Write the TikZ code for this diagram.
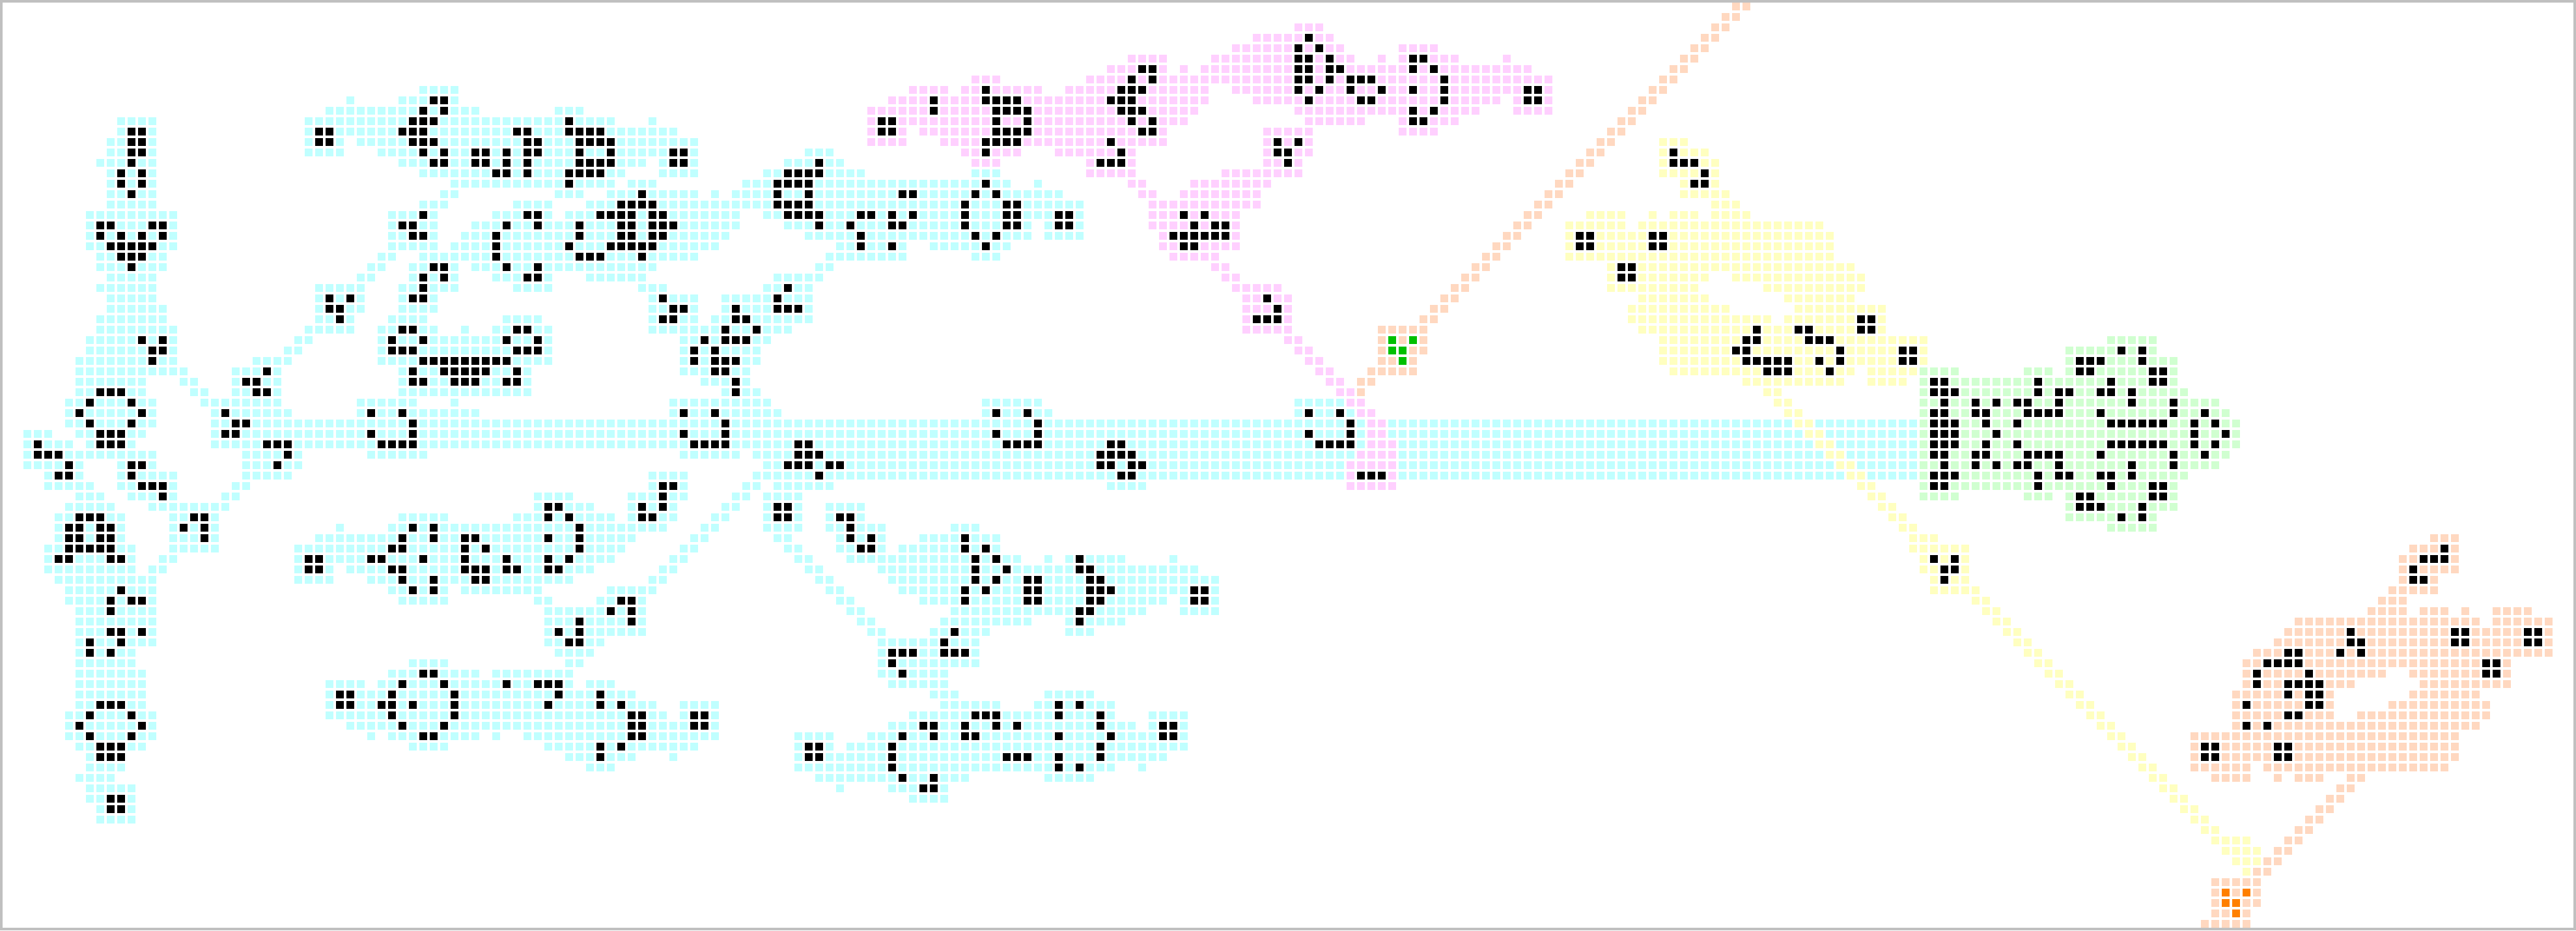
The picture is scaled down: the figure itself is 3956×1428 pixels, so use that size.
\documentclass[tikz,border=0pt]{standalone}
\definecolor{framec}{HTML}{C0C0C0}
\definecolor{cyanc}{HTML}{C0FFFF}
\definecolor{pinkc}{HTML}{FFD0FF}
\definecolor{yellowc}{HTML}{FFFFC0}
\definecolor{peachc}{HTML}{FFD8C0}
\definecolor{mintc}{HTML}{D0FFD0}
\definecolor{greenc}{HTML}{00C000}
\definecolor{orangec}{HTML}{FF8000}
\tikzset{
  cellc/.style={fill=cyanc},
  cellm/.style={fill=pinkc},
  celly/.style={fill=yellowc},
  cellp/.style={fill=peachc},
  cellg/.style={fill=mintc},
  celld/.style={fill=greenc},
  cellr/.style={fill=orangec},
  cellk/.style={fill=black},
}
\def\gridoff{0}
\newcommand\Cell[3]{%
  \edef\cxx{\the\numexpr 4+16*(\gridoff+#3)\relax}%
  \edef\cyy{\the\numexpr 4+16*#2\relax}%
  \fill[cell#1] (\cxx,\cyy) rectangle +(12,12);}
% colour, row, spans a/b, black cells
\newcommand\Y[4]{%
  \foreach \ca/\cb in {#3}{\foreach \ci in {\ca,...,\cb}{\Cell{#1}{#2}{\ci}}}%
  \def\blacklist{#4}%
  \ifx\blacklist\empty\else\foreach \ci in {#4}{\Cell{k}{#2}{\ci}}\fi}
\begin{document}
\begin{tikzpicture}[x=0.25pt,y=-0.25pt]
\useasboundingbox (0,0) rectangle (3956,1428);
\fill[framec] (0,0) rectangle (3956,1428);
\fill[white] (4,4) rectangle (3952,1424);
% ---- columns 0-40
\def\gridoff{0}
\Y{c}{8}{40/40}{}
\Y{c}{9}{33/33,38/40}{}
\Y{c}{10}{31/40}{40}
\Y{c}{11}{11/14,29/40}{39,40}
\Y{c}{12}{11/14,29/40}{12,13,30,31,38,39,40}
\Y{c}{13}{10/14,29/32,34/40}{12,13,30,31,39,40}
\Y{c}{14}{10/14,29/32,36/40}{12,13,40}
\Y{c}{15}{9/14,38/40}{12}
\Y{c}{16}{10/14,40/40}{11,13}
\Y{c}{17}{10/14}{11,13}
\Y{c}{18}{10/14}{12}
\Y{c}{19}{10/14,40/40}{}
\Y{c}{20}{8/16,37/40}{40}
\Y{c}{21}{8/16,37/40}{9,10,14,15,38,39}
\Y{c}{22}{8/16,37/40}{9,11,13,15,39,40}
\Y{c}{23}{8/16,37/40}{10,11,12,13,14}
\Y{c}{24}{9/15,36/37,40/40}{11,12,13}
\Y{c}{25}{9/15,35/36,39/40}{12}
\Y{c}{26}{10/14,34/35,39/40}{40}
\Y{c}{27}{9/14,30/34,38/40}{40}
\Y{c}{28}{10/14,30/34,38/40}{31,33,39,40}
\Y{c}{29}{10/15,30/34,38/40}{31,32}
\Y{c}{30}{9/15,30/33,37/40}{32}
\Y{c}{31}{9/16,29/33,36/40}{38,39}
\Y{c}{32}{8/16,28/29,36/40}{13,15,37,40}
\Y{c}{33}{8/16,27/28,36/40}{14,15,37,38,39}
\Y{c}{34}{7/16,24/27,36/40}{14,40}
\Y{c}{35}{7/17,22/26,38/40}{25,39}
\Y{c}{36}{7/13,17/18,22/26,38/40}{23,24,39,40}
\Y{c}{37}{7/13,18/19,22/26,38/40}{9,10,11,24,25}
\Y{c}{38}{6/14,19/26,34/39}{8,12}
\Y{c}{39}{6/14,20/27,34/40}{7,13,21,35,38}
\Y{c}{40}{6/14,20/40}{8,12,22,23,39}
\Y{c}{41}{2/4,7/13,20/40}{9,10,11,21,22,35,39}
\Y{c}{42}{2/6,8/12,20/40}{3,9,10,11,25,26,27,36,37,38,39}
\Y{c}{43}{2/14,23/28,35/40}{3,4,5,27}
\Y{c}{44}{2/7,11/14,23/28}{6,12,13,26}
\Y{c}{45}{4/7,11/16,23/27}{5,6,12}
\Y{c}{46}{4/8,11/16,22/23}{13,14,15}
\Y{c}{47}{7/9,12/16,21/22}{15}
\Y{c}{48}{6/10,14/21}{}
\Y{c}{49}{5/11,16/20,38/40}{7,8,9,18,19}
\Y{c}{50}{5/11,16/20,32/32,37/40}{6,7,9,10,17,19,39}
\Y{c}{51}{5/11,16/20,30/40}{6,7,9,10,19,38}
\Y{c}{52}{4/12,16/20,28/40}{6,7,8,9,10,37,38}
\Y{c}{53}{4/12,15/16,28/40}{5,6,10,11,29,30,35,36,40}
\Y{c}{54}{4/12,14/15,28/31,33/40}{29,30,37,38}
\Y{c}{55}{5/14,28/31,35/40}{38}
\Y{c}{56}{6/14,37/40}{11,39}
\Y{c}{57}{6/14,38/40}{10,12,13}
\Y{c}{58}{7/14}{10}
\Y{c}{59}{7/14}{}
\Y{c}{60}{7/14}{10,11,13}
\Y{c}{61}{7/14}{8,11}
\Y{c}{62}{7/12}{8,10}
\Y{c}{63}{7/12,39/40}{}
\Y{c}{64}{7/13,37/40}{40}
\Y{c}{65}{7/13,31/34,36/40}{38}
\Y{c}{66}{7/13,31/40}{32,33,37}
\Y{c}{67}{7/13,31/40}{9,10,11,32,33,36,37,39}
\Y{c}{68}{6/14,31/40}{8,12,37}
\Y{c}{69}{6/14,33/40}{7,13,38}
\Y{c}{70}{6/14,35/35,37/40}{8,12,40}
\Y{c}{71}{7/13,39/40}{9,10,11}
\Y{c}{72}{8/11}{9,10,11}
\Y{c}{73}{8/11}{}
\Y{c}{74}{7/10}{}
\Y{c}{75}{8/12}{}
\Y{c}{76}{8/12}{10,11}
\Y{c}{77}{9/12}{10,11}
\Y{c}{78}{9/12}{}
% ---- columns 41-116
\def\gridoff{41}
\Y{m}{5}{67/70,75/75}{}
\Y{m}{6}{65/70,72/72,74/75}{68,69}
\Y{m}{7}{52/54,63/75}{67,69}
\Y{c}{8}{0/2}{}
\Y{m}{8}{46/49,51/58,61/74}{53,66,67,68}
\Y{c}{9}{0/2}{0,1}
\Y{m}{9}{44/74}{48,53,54,55,56,65,66,67}
\Y{c}{10}{0/4,12/14}{1}
\Y{m}{10}{42/73}{48,54,55,56,57,66,67,68}
\Y{c}{11}{0/17,21/21}{0,13}
\Y{m}{11}{42/72}{43,44,54,57,67,69}
\Y{c}{12}{0/23}{8,9,13,14,15,16}
\Y{m}{12}{42/45,47/70}{43,44,54,55,56,57,68,69}
\Y{c}{13}{0/25}{0,9,10,14,15,16,17}
\Y{m}{13}{42/45,49/70}{53,54,55,56,65}
\Y{c}{14}{0/25,36/38}{1,4,5,7,9,10,14,17,23,24}
\Y{m}{14}{51/56,60/67}{53,66}
\Y{c}{15}{0/20,22/25,34/39}{0,1,4,5,7,9,14,15,16,17,23,24,37}
\Y{m}{15}{52/54,63/67}{64,65,66}
\Y{c}{16}{0/18,22/25,32/41,52/54}{6,7,9,13,14,15,16,34,35,36,37}
\Y{m}{16}{63/67}{}
\Y{c}{17}{2/17,19/21,30/55,58/58}{13,33,34,35,36,53}
\Y{m}{17}{67/68,73/75}{}
\Y{c}{18}{1/2,12/14,17/25,27/27,29/60}{20,33,36,45,46,52,54}
\Y{m}{18}{68/69,72/75}{}
\Y{c}{19}{0/1,8/11,15/62}{18,19,20,21,33,34,35,36,51,55,56}
\Y{m}{19}{69/75}{}
\Y{c}{20}{0/0,6/11,13/29,32/62}{9,10,16,17,18,19,21,22,34,35,36,37,41,42,44,46,51,55,56,60,61}
\Y{m}{20}{69/75}{72,74}
\Y{c}{21}{0/0,4/29,34/57,59/62}{7,10,14,18,19,21,22,23,37,40,44,45,51,55,56,60,61}
\Y{m}{21}{69/75}{73,75}
\Y{c}{22}{0/0,3/28,36/57,59/62}{6,14,18,19,21,22,41,52,54}
\Y{m}{22}{70/75}{71,72,73,74,75}
\Y{c}{23}{0/0,2/27,39/45,48/55}{6,13,17,18,19,20,21,41,44,53}
\Y{m}{23}{70/75}{72,73}
\Y{c}{24}{0/25,38/45,52/54}{6,14,15,16,20}
\Y{m}{24}{71/75}{}
\Y{c}{25}{0/2,4/21,37/38}{0,1,7,10}
\Y{m}{25}{75/75}{}
\Y{c}{26}{0/2,6/11,15/20,33/37}{1,9,10}
\Y{c}{27}{0/2,8/11,20/22,32/36}{34}
\Y{c}{28}{0/0,21/25,28/36}{22,33}
\Y{c}{29}{0/0,21/25,28/36}{23,24,29,33,34,35}
\Y{c}{30}{7/10,21/25,27/36}{22,23,29,30}
\Y{c}{31}{0/0,3/3,6/11,21/34}{8,9,28,31}
\Y{c}{32}{0/11,24/32}{7,10,26,28,29,30}
\Y{c}{33}{0/11,24/31}{8,9,10,25,27}
\Y{c}{34}{0/11,24/31}{0,1,2,3,4,5,6,7,25,27,28,29}
\Y{c}{35}{0/9,24/30}{1,2,3,4,5,8,27,28}
\Y{c}{36}{0/9,26/30}{2,3,4,7,8,29}
\Y{c}{37}{0/9,28/31}{29}
\Y{c}{38}{2/2,23/32,53/58}{}
\Y{c}{39}{0/4,23/33,53/59}{24,27,54,57}
\Y{c}{40}{0/75}{28,58}
\Y{c}{41}{0/75}{24,28,54,58}
\Y{c}{42}{0/75}{25,26,27,28,35,36,55,56,57,58,65,66}
\Y{c}{43}{24/29,31/75}{35,36,37,64,65,66,67}
\Y{c}{44}{32/75}{34,35,36,38,39,64,65,67,68}
\Y{c}{45}{21/24,31/75}{37,66,67}
\Y{c}{46}{21/24,30/31,33/38,65/68}{22,23}
\Y{c}{47}{10/13,19/24,29/30,32/35}{22}
\Y{c}{48}{10/15,19/23,28/29,32/35,38/41}{11,12,20,22,33,34}
\Y{c}{49}{0/1,8/17,19/23,27/28,32/35,38/41}{11,13,20,21,33,34,39,40}
\Y{c}{50}{0/22,26/27,32/35,38/43,50/52}{0,14,40}
\Y{c}{51}{0/19,25/26,33/34,39/43,47/54}{0,3,4,11,14,40,42,51}
\Y{c}{52}{0/18,24/25,34/35,39/43,45/54}{3,5,14,41,42,51,53}
\Y{c}{53}{0/17,23/24,35/36,40/56,59/59,61/66,71/71}{3,7,11,13,52,54,62}
\Y{c}{54}{0/15,22/23,36/37,43/73}{3,4,5,7,8,11,12,52,55,62,63}
\Y{c}{55}{0/13,21/22,37/38,44/75}{0,4,5,52,54,57,58,63,64}
\Y{c}{56}{0/1,3/10,17/21,38/39,45/75}{0,51,53,57,58,63,64,65,73,74}
\Y{c}{57}{0/1,10/11,16/20,39/40,47/70,72/75}{18,19,51,57,58,63,64,73,74}
\Y{c}{58}{11/20,40/41,50/68,72/75}{17,19,62,63}
\Y{c}{59}{11/20,41/42,49/57,61/66}{14,19,62}
\Y{c}{60}{11/20,42/43,48/53,61/63}{12,14,50}
\Y{c}{61}{11/16,43/52}{13,14,49}
\Y{c}{62}{12/15,43/52}{44,45,46,49,50,51}
\Y{c}{63}{0/1,13/14,43/52}{44}
\Y{c}{64}{0/4,6/13,43/49}{0,45}
\Y{c}{65}{0/13,15/17,44/49}{1,7,10,11,12}
\Y{c}{66}{0/19,48/50,59/63}{2,12,16}
\Y{c}{67}{0/21,24/27,49/54,58/65}{2,11,16,18,60,62}
\Y{c}{68}{0/22,24/27,46/65,69/72}{2,19,20,25,26,52,53,54,60,64}
\Y{c}{69}{0/27,44/67,69/72}{1,19,20,25,26,47,48,51,54,56,64,70,71}
\Y{c}{70}{0/4,6/6,9/27,35/38,42/72}{0,19,20,45,48,51,52,60,65,70,71}
\Y{c}{71}{0/1,11/25,35/38,40/72}{16,18,36,37,44,64}
\Y{c}{72}{13/19,23/23,35/70}{16,36,37,44,55,56,57,60,64}
\Y{c}{73}{15/17,35/65,68/68}{44,60,62}
\Y{c}{74}{37/51,59/63}{45,48}
\Y{c}{75}{39/39,44/49}{47,48}
\Y{c}{76}{46/49}{}
% ---- columns 117-180
\def\gridoff{117}
\Y{p}{0}{49/50}{}
\Y{p}{1}{48/49}{}
\Y{m}{2}{7/9}{}
\Y{p}{2}{47/48}{}
\Y{m}{3}{3/10}{8}
\Y{p}{3}{46/47}{}
\Y{m}{4}{1/11,17/20}{7,9}
\Y{p}{4}{45/46}{}
\Y{m}{5}{0/12,15/15,17/22,27/27}{7,8,10,18,19}
\Y{p}{5}{44/45}{}
\Y{m}{6}{0/29}{7,8,10,11,18,20}
\Y{p}{6}{43/44}{}
\Y{m}{7}{0/31}{7,8,10,12,13,14,21}
\Y{p}{7}{42/43}{}
\Y{m}{8}{1/31}{7,9,12,15,18,21,29,30}
\Y{p}{8}{41/42}{}
\Y{m}{9}{3/26,28/31}{8,13,14,21,29,30}
\Y{p}{9}{40/41}{}
\Y{m}{10}{7/24,28/31}{18,20}
\Y{p}{10}{39/40}{}
\Y{m}{11}{8/13,17/22}{18,19}
\Y{p}{11}{38/39}{}
\Y{m}{12}{4/8,17/20}{}
\Y{p}{12}{37/38}{}
\Y{m}{13}{4/8}{5,7}
\Y{p}{13}{36/37}{}
\Y{y}{13}{42/44}{}
\Y{m}{14}{4/8}{5,6}
\Y{p}{14}{35/36}{}
\Y{y}{14}{42/46}{43}
\Y{m}{15}{4/7}{6}
\Y{p}{15}{34/35}{}
\Y{y}{15}{42/47}{43,44,45}
\Y{m}{16}{0/7}{}
\Y{p}{16}{33/34}{}
\Y{y}{16}{42/47}{46}
\Y{m}{17}{0/4}{}
\Y{p}{17}{32/33}{}
\Y{y}{17}{44/47}{45,46}
\Y{m}{18}{0/3}{}
\Y{p}{18}{31/32}{}
\Y{y}{18}{44/48}{}
\Y{m}{19}{0/3}{}
\Y{p}{19}{30/31}{}
\Y{y}{19}{47/49}{}
\Y{m}{20}{0/1}{}
\Y{p}{20}{29/30}{}
\Y{y}{20}{35/38,41/41,43/45,47/50}{}
\Y{m}{21}{0/1}{0}
\Y{p}{21}{28/29}{}
\Y{y}{21}{33/38,40/57}{}
\Y{m}{22}{0/1}{0}
\Y{p}{22}{27/28}{}
\Y{y}{22}{33/58}{34,35,41,42}
\Y{m}{23}{0/1}{}
\Y{p}{23}{26/27}{}
\Y{y}{23}{33/58}{34,35,41,42}
\Y{p}{24}{25/26}{}
\Y{y}{24}{33/58}{}
\Y{m}{25}{0/0}{}
\Y{p}{25}{24/25}{}
\Y{y}{25}{37/60}{38,39}
\Y{m}{26}{0/1}{}
\Y{p}{26}{23/24}{}
\Y{y}{26}{37/46,49/61}{38,39}
\Y{m}{27}{1/5}{}
\Y{p}{27}{22/23}{}
\Y{y}{27}{37/45,52/61}{}
\Y{m}{28}{2/6}{4}
\Y{p}{28}{21/22}{}
\Y{y}{28}{40/46,54/60}{}
\Y{m}{29}{2/6}{5}
\Y{p}{29}{20/21}{}
\Y{y}{29}{39/48,55/63}{}
\Y{m}{30}{2/6}{3,4,5}
\Y{p}{30}{19/20}{}
\Y{y}{30}{39/52,54/63}{61,62}
\Y{m}{31}{2/6}{}
\Y{p}{31}{15/19}{}
\Y{y}{31}{40/63}{51,55,56,61,62}
\Y{m}{32}{6/7}{}
\Y{p}{32}{15/19}{}
\Y{d}{32}{16/16,18/18}{}
\Y{y}{32}{42/63}{50,51,56,57,58}
\Y{m}{33}{7/8}{}
\Y{p}{33}{15/19}{}
\Y{d}{33}{16/17}{}
\Y{y}{33}{42/63}{49,50,59}
\Y{m}{34}{8/9}{}
\Y{p}{34}{15/18}{}
\Y{d}{34}{17/17}{}
\Y{y}{34}{42/63}{50,51,52,53,54,57,59}
\Y{m}{35}{9/10}{}
\Y{p}{35}{14/18}{}
\Y{y}{35}{43/60,62/63}{52,53,54,58}
\Y{m}{36}{10/11}{}
\Y{p}{36}{13/14}{}
\Y{y}{36}{50/59,62/63}{}
\Y{m}{37}{11/12}{}
\Y{p}{37}{13/13}{}
\Y{y}{37}{52/53}{}
\Y{c}{38}{7/11}{}
\Y{m}{38}{12/13}{}
\Y{y}{38}{53/54}{}
\Y{c}{39}{7/12}{8,11}
\Y{m}{39}{13/14}{}
\Y{y}{39}{54/55}{}
\Y{c}{40}{0/13,16/54,57/63}{12}
\Y{m}{40}{14/15}{}
\Y{y}{40}{55/56}{}
\Y{c}{41}{0/13,16/55,58/63}{8,12}
\Y{m}{41}{14/15}{}
\Y{y}{41}{56/57}{}
\Y{c}{42}{0/13,17/56,59/63}{9,10,11,12}
\Y{m}{42}{14/16}{}
\Y{y}{42}{57/58}{}
\Y{c}{43}{0/12,17/57,60/63}{}
\Y{m}{43}{13/16}{}
\Y{y}{43}{58/59}{}
\Y{c}{44}{0/11,17/58,61/63}{}
\Y{m}{44}{12/16}{}
\Y{y}{44}{59/60}{}
\Y{c}{45}{0/11,17/59,62/63}{}
\Y{m}{45}{12/16}{13,14,15}
\Y{y}{45}{60/61}{}
\Y{m}{46}{12/16}{}
\Y{y}{46}{61/62}{}
\Y{y}{47}{62/63}{}
\Y{y}{48}{63/63}{}
% ---- columns 181-246
\def\gridoff{181}
\Y{y}{32}{0/3}{}
\Y{g}{32}{21/25}{}
\Y{y}{33}{0/3}{1,2}
\Y{g}{33}{17/25}{22,24}
\Y{y}{34}{0/3}{1,2}
\Y{g}{34}{17/27}{18,19,20,24}
\Y{y}{35}{0/2}{}
\Y{g}{35}{3/6,13/15,17/27}{18,19,25,26}
\Y{y}{36}{0/1}{}
\Y{g}{36}{3/27}{4,5,14,21,25,26}
\Y{g}{37}{3/28}{4,5,6,14,16,17,20,21,23}
\Y{g}{38}{3/31}{5,8,10,12,13,16,23,27}
\Y{g}{39}{3/32}{4,5,8,9,13,14,15,16,20,27,30}
\Y{c}{40}{0/2}{}
\Y{g}{40}{3/33}{4,5,6,9,12,21,22,23,24,25,26,29,31}
\Y{c}{41}{0/2}{}
\Y{g}{41}{3/33}{4,5,6,10,29,32}
\Y{c}{42}{0/2}{}
\Y{g}{42}{3/33}{4,5,6,9,12,21,22,23,24,25,26,29,31}
\Y{c}{43}{0/2}{}
\Y{g}{43}{3/32}{4,5,8,9,13,14,15,16,20,27,30}
\Y{c}{44}{0/2}{}
\Y{g}{44}{3/31}{5,8,10,12,13,16,23,27}
\Y{c}{45}{0/2}{}
\Y{g}{45}{3/28}{4,5,6,14,16,17,20,21,23}
\Y{g}{46}{3/27}{4,5,14,21,25,26}
\Y{g}{47}{3/6,13/15,17/27}{18,19,25,26}
\Y{y}{48}{0/0}{}
\Y{g}{48}{17/27}{18,19,20,24}
\Y{y}{49}{0/1}{}
\Y{g}{49}{17/25}{22,24}
\Y{y}{50}{1/2}{}
\Y{g}{50}{21/25}{}
\Y{y}{51}{2/4}{}
\Y{p}{51}{52/54}{}
\Y{y}{52}{2/7}{}
\Y{p}{52}{50/54}{53}
\Y{y}{53}{3/7}{4,6}
\Y{p}{53}{49/54}{51,52,53}
\Y{y}{54}{3/7}{5,6}
\Y{p}{54}{49/54}{50}
\Y{y}{55}{4/7}{5}
\Y{p}{55}{49/52}{50,51}
\Y{y}{56}{4/8}{}
\Y{p}{56}{48/52}{}
\Y{y}{57}{8/9}{}
\Y{p}{57}{47/49}{}
\Y{y}{58}{9/10}{}
\Y{p}{58}{46/49,51/53,55/55,58/61}{}
\Y{y}{59}{10/11}{}
\Y{p}{59}{39/56,58/63}{}
\Y{y}{60}{11/12}{}
\Y{p}{60}{38/63}{44,54,55,61,62}
\Y{y}{61}{12/13}{}
\Y{p}{61}{37/63}{44,45,54,55,61,62}
\Y{y}{62}{13/14}{}
\Y{p}{62}{35/63}{38,39,43,45}
\Y{y}{63}{14/15}{}
\Y{p}{63}{34/59}{36,37,38,39,57,58}
\Y{y}{64}{15/16}{}
\Y{p}{64}{34/47,50/59}{35,40,57,58}
\Y{y}{65}{16/17}{}
\Y{p}{65}{34/44,51/59}{35,38,39,40,41}
\Y{y}{66}{17/18}{}
\Y{p}{66}{33/42,50/56}{38,40,41}
\Y{y}{67}{18/19}{}
\Y{p}{67}{33/42,48/57}{34,40,41}
\Y{y}{68}{19/20}{}
\Y{p}{68}{33/42,45/57}{38,39}
\Y{y}{69}{20/21}{}
\Y{p}{69}{33/56}{34,36}
\Y{y}{70}{21/22}{}
\Y{p}{70}{29/54}{}
\Y{y}{71}{22/23}{}
\Y{p}{71}{29/54}{30,31,37,38}
\Y{y}{72}{23/24}{}
\Y{p}{72}{29/54}{30,31,37,38}
\Y{y}{73}{24/25}{}
\Y{p}{73}{29/34,36/53}{}
\Y{y}{74}{25/26}{}
\Y{p}{74}{31/34,37/37,39/41,44/45}{}
\Y{y}{75}{26/27}{}
\Y{p}{75}{43/44}{}
\Y{y}{76}{27/28}{}
\Y{p}{76}{42/43}{}
\Y{y}{77}{28/29}{}
\Y{p}{77}{41/42}{}
\Y{y}{78}{29/30}{}
\Y{p}{78}{40/41}{}
\Y{y}{79}{30/31}{}
\Y{p}{79}{39/40}{}
\Y{y}{80}{31/34}{}
\Y{p}{80}{38/39}{}
\Y{y}{81}{32/35}{}
\Y{p}{81}{37/38}{}
\Y{y}{82}{33/35}{}
\Y{p}{82}{36/37}{}
\Y{y}{83}{34/34}{}
\Y{p}{83}{35/36}{}
\Y{p}{84}{31/35}{}
\Y{p}{85}{31/35}{}
\Y{r}{85}{32/32,34/34}{}
\Y{p}{86}{31/35}{}
\Y{r}{86}{32/33}{}
\Y{p}{87}{31/34}{}
\Y{r}{87}{33/33}{}
\Y{p}{88}{30/34}{}
\end{tikzpicture}
\end{document}
